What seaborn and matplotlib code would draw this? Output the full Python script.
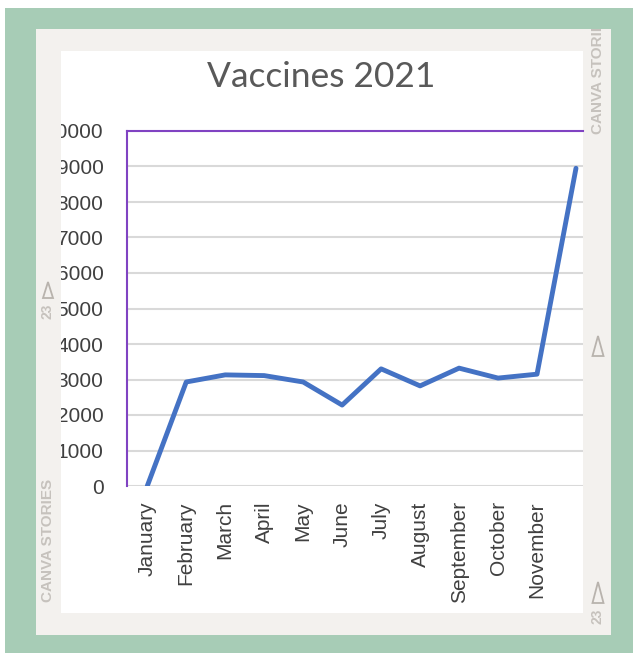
import matplotlib
matplotlib.use("Agg")
import matplotlib.pyplot as plt
import numpy as np
import pandas as pd
import seaborn as sns
from matplotlib.patches import Rectangle, Polygon

# ---- data ----
months = ["January", "February", "March", "April", "May", "June", "July",
          "August", "September", "October", "November", "December"]
vaccines = [0, 2930, 3130, 3110, 2930, 2280, 3300, 2820, 3320, 3040, 3150, 8950]
tick_labels = months[:11]          # December label is cropped off in the original
y_ticks = list(range(0, 10001, 1000))
title = "Vaccines 2021"

sns.set_theme(style="white")
plt.rcParams['font.family'] = ['Liberation Sans', 'DejaVu Sans']

W, H = 633, 653
GREEN = '#a7ccb6'
LIGHT = '#f3f1ee'
WM = '#c6c2bd'

fig = plt.figure(figsize=(W / 100, H / 100), dpi=100, facecolor='white')

# background layers
bg = fig.add_axes([0, 0, 1, 1], zorder=-2)
bg.set_xlim(0, W); bg.set_ylim(H, 0); bg.axis('off')
bg.add_patch(Rectangle((5, 8), W - 5, H - 8, color=GREEN, lw=0))
bg.add_patch(Rectangle((36, 29), 575, 606, color=LIGHT, lw=0))
bg.add_patch(Rectangle((61, 51), 522, 562, color='white', lw=0))

# main chart
ax = fig.add_axes([127 / W, 1 - 486 / H, (583 - 127) / W, (486 - 131) / H])
ax.set_facecolor('none')
df = pd.DataFrame({'month': months, 'vaccines': vaccines})
sns.lineplot(data=df, x='month', y='vaccines', ax=ax, color='#4472c4',
             linewidth=3.5, sort=False)
ax.set_xlim(-0.52, 11.18)
ax.set_ylim(0, 10000)
ax.set_yticks(y_ticks)
ax.set_yticklabels([str(v) for v in y_ticks])
ax.set_xticks(range(len(tick_labels)))
ax.set_xticklabels(tick_labels, rotation=90)
ax.tick_params(axis='both', length=0, labelsize=15, labelcolor='#404040')
ax.tick_params(axis='y', pad=17)
ax.tick_params(axis='x', pad=11)
ax.set_xlabel('')
ax.set_ylabel('')
ax.grid(axis='y', color='#d9d9d9', linewidth=1.5)
ax.grid(axis='x', visible=False)
ax.set_axisbelow(True)
for s in ['right', 'bottom']:
    ax.spines[s].set_visible(False)
for s in ['left', 'top']:
    ax.spines[s].set_color('#8043c2')
    ax.spines[s].set_linewidth(1.5)

fig.text(321 / W, 1 - 77 / H, title, fontsize=25.5, family=['Lato', 'DejaVu Sans'],
         color='#595959', ha='center', va='center')

# overlay frame (crops the tick labels like the original) + watermarks
ov = fig.add_axes([0, 0, 1, 1], zorder=5)
ov.set_xlim(0, W); ov.set_ylim(H, 0); ov.axis('off')
ov.patch.set_alpha(0)
ov.add_patch(Rectangle((36, 51), 25, 562, color=LIGHT, lw=0))
ov.add_patch(Rectangle((36, 613), 575, 22, color=LIGHT, lw=0))

ov.text(47.5, 602, "CANVA STORIES", rotation=90, ha='center', va='bottom',
        fontsize=11, fontweight='bold', color=WM, zorder=2)
ov.text(598, 134, "CANVA STORIES", rotation=90, ha='center', va='bottom',
        fontsize=11, fontweight='bold', color=WM, zorder=2)
ov.text(48, 319, "23", rotation=90, ha='center', va='bottom', fontsize=10,
        fontweight='bold', color=WM, zorder=2)
ov.text(598, 624, "23", rotation=90, ha='center', va='bottom', fontsize=10,
        fontweight='bold', color=WM, zorder=2)
for (cx, top, bot, hw) in [(48, 282, 298, 5), (598, 336, 356, 5.5), (598, 582, 603, 5.5)]:
    ov.add_patch(Polygon([(cx, top), (cx - hw, bot), (cx + hw, bot)], closed=True,
                         fill=False, edgecolor='#b8b3ad', lw=1.3, zorder=2))
# green margin on top of the watermark so it is cut at the panel edge
ov.add_patch(Rectangle((5, 8), W - 5, 21, color=GREEN, lw=0, zorder=4))

fig.savefig("out.png", dpi=100, facecolor='white')
